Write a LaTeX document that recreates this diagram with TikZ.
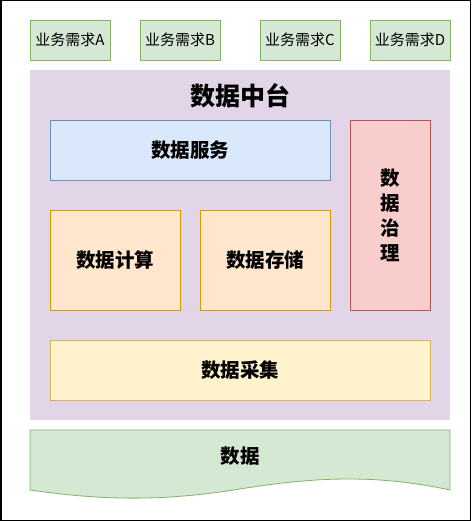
\documentclass[tikz,border=0pt]{standalone}
\usepackage{fontspec}
\usepackage{tikz}
\newfontfamily\cjk{Noto Sans CJK SC}
\definecolor{reqfill}{HTML}{D5E8D4}
\definecolor{reqline}{HTML}{82B366}
\definecolor{platfill}{HTML}{E1D5E7}
\definecolor{svcfill}{HTML}{DAE8FC}
\definecolor{svcline}{HTML}{6C8EBF}
\definecolor{govfill}{HTML}{F8CECC}
\definecolor{govline}{HTML}{B85450}
\definecolor{cmpfill}{HTML}{FFE6CC}
\definecolor{cmpline}{HTML}{D79B00}
\definecolor{colfill}{HTML}{FFF2CC}
\definecolor{colline}{HTML}{D6B656}

\begin{document}
\begin{tikzpicture}[x=1pt,y=-1pt,
  req/.style={draw=reqline,fill=reqfill,line width=0.8pt,minimum width=80pt,minimum height=40pt,inner sep=0pt,font=\cjk\fontsize{15}{17}\selectfont},
  blk/.style={draw,line width=0.8pt,inner sep=0pt,font=\cjk\bfseries\fontsize{19.5}{25}\selectfont,align=center}]
  % frame
  \useasboundingbox (0,0) rectangle (471,521);
  \draw[black,line width=1.5pt] (0.75,0.75) rectangle (470.25,520.25);
  % business requests
  \foreach \x/\n in {70/A,180/B,300/C,410/D}{
    \node[req] (req\n) at (\x,40) {业务需求\n};}
  % data middle platform
  \fill[platfill] (30,70) rectangle (450,420);
  \node[font=\cjk\bfseries\fontsize{25}{28}\selectfont] (zhongtai) at (240,96) {数据中台};
  \node[blk,draw=svcline,fill=svcfill,minimum width=280pt,minimum height=60pt] (fuwu) at (190,150) {数据服务};
  \node[blk,draw=govline,fill=govfill,minimum width=80pt,minimum height=190pt] (zhili) at (390,215) {数\\据\\治\\理};
  \node[blk,draw=cmpline,fill=cmpfill,minimum width=130pt,minimum height=100pt] (jisuan) at (115,260) {数据计算};
  \node[blk,draw=cmpline,fill=cmpfill,minimum width=130pt,minimum height=100pt] (cunchu) at (265,260) {数据存储};
  \node[blk,draw=colline,fill=colfill,minimum width=380pt,minimum height=60pt] (caiji) at (240,370) {数据采集};
  % raw data (document shape)
  \draw[reqline,fill=reqfill,line width=0.8pt] (30,430) -- (450,430) -- (450,490)
    .. controls (380,475) and (320,476) .. (240,489)
    .. controls (160,502) and (100,500) .. (30,490) -- cycle;
  \node[font=\cjk\bfseries\fontsize{19.5}{22}\selectfont] (shuju) at (240,456) {数据};
\end{tikzpicture}
\end{document}
